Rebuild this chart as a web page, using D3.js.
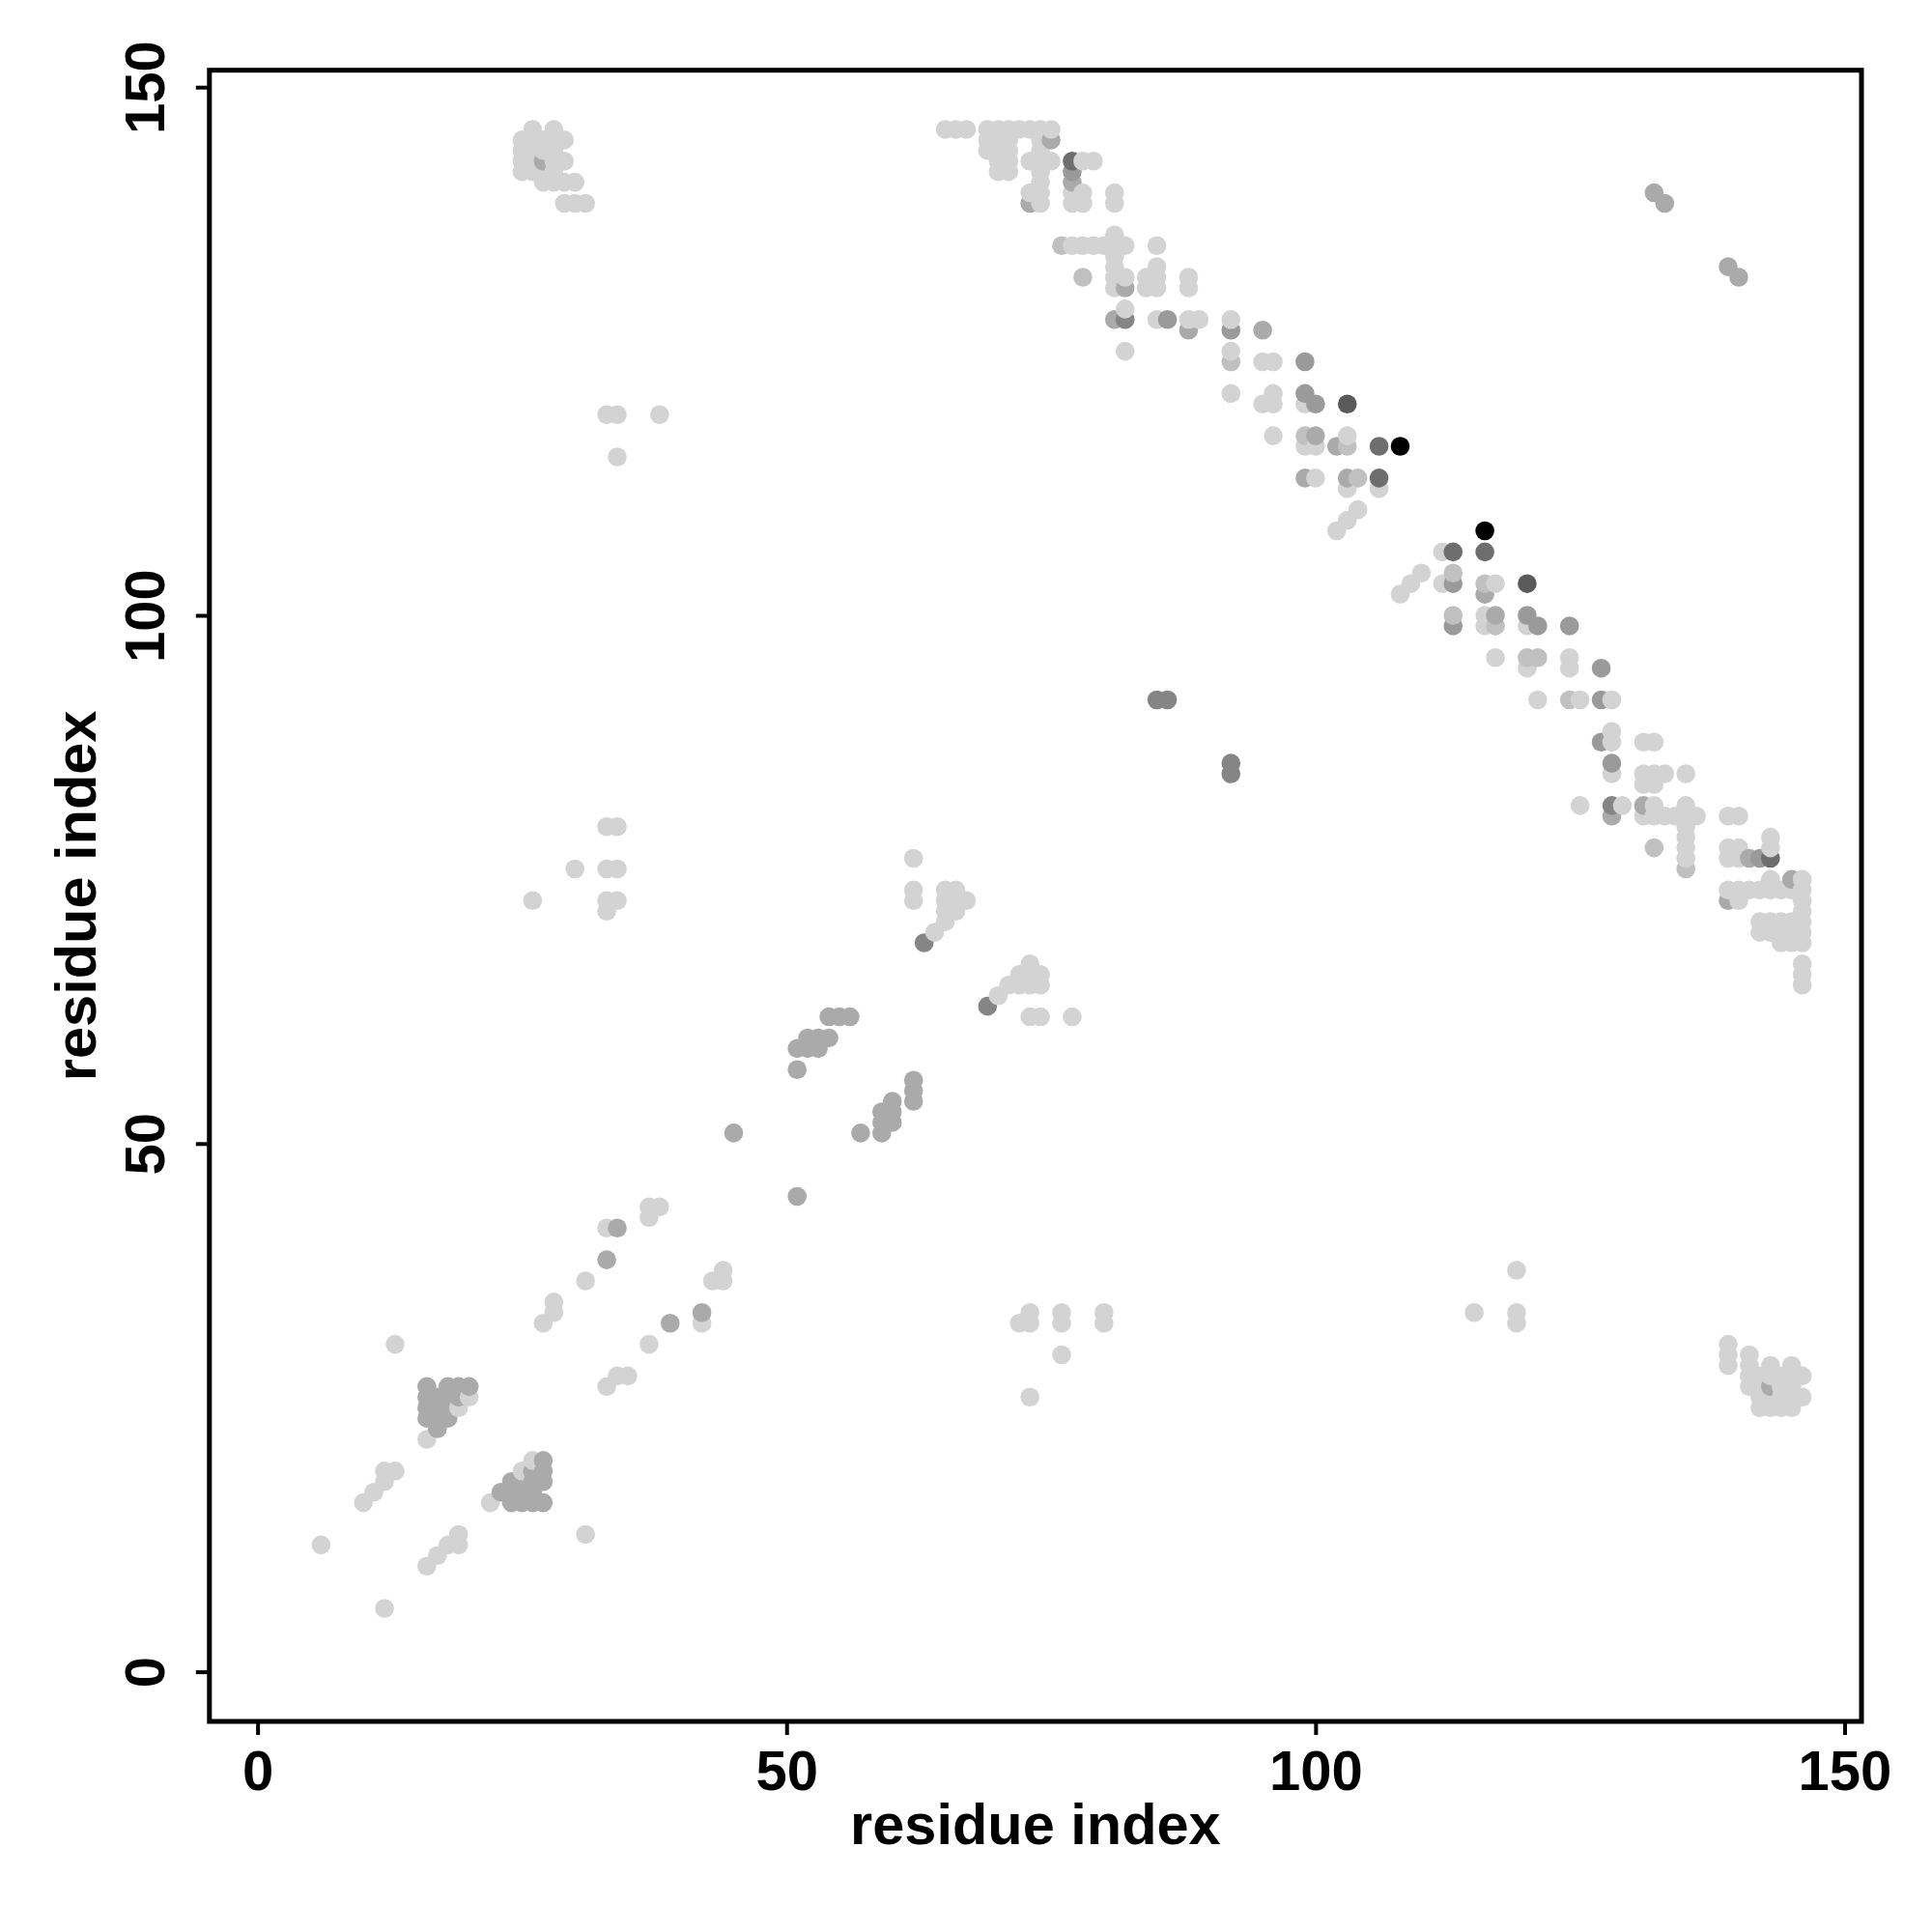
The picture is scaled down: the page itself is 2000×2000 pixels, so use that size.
<!DOCTYPE html>
<html><head><meta charset="utf-8">
<script src="https://cdn.jsdelivr.net/npm/d3@7"></script>
<style>body{margin:0;background:#fff}</style>
</head><body>
<svg id="c" width="2000" height="2000"></svg>
<script>
// ---- data: contact pairs [residue i, residue j], grouped by shade ----
const xTicks = [0, 50, 100, 150];
const yTicks = [0, 50, 100, 150];
const xLabel = "residue index";
const yLabel = "residue index";

const shadeLight = [
 [26,146],[28,146],[25,145],[26,145],[27,145],[28,145],[29,145],[25,144],[26,144],[27,144],[28,144],
 [25,143],[26,143],[28,143],[29,143],[25,142],[26,142],[27,142],[28,142],[27,141],[28,141],[29,141],[30,141],
 [29,139],[30,139],[31,139],
 [33,119],[34,119],[38,119],[34,115],[33,80],[34,80],[30,76],[33,76],[34,76],[26,73],[33,73],[34,73],[33,72],
 [65,146],[66,146],[67,146],[69,146],[70,146],[71,146],[72,146],[73,146],[74,146],[75,146],
 [69,145],[70,145],[71,145],[74,145],[69,144],[70,144],[71,144],[74,144],
 [70,143],[71,143],[73,143],[74,143],[75,143],[78,143],[79,143],[70,142],[71,142],[74,142],[74,141],
 [73,140],[74,140],[77,140],[78,140],[81,140],[74,139],[77,139],[78,139],[81,139],
 [81,136],[77,135],[78,135],[79,135],[80,135],[81,135],[82,135],[85,135],[81,134],[81,133],[85,133],
 [81,132],[82,132],[84,132],[85,132],[88,132],[81,131],[84,131],[85,131],[88,131],
 [82,129],[85,128],[88,128],[89,128],[92,128],[82,125],[92,125],[95,124],[96,124],
 [92,121],[96,121],[95,120],[96,120],[99,120],[96,117],[99,116],[100,116],[103,117],
 [100,113],[103,112],[106,112],[104,110],[103,109],[102,108],
 [112,106],[110,104],[109,103],[108,102],[112,103],[117,103],[116,100],[116,99],[120,99],
 [117,96],[120,95],[124,96],[124,95],[121,92],[125,92],[128,92],[128,89],[128,88],[131,88],[132,88],
 [128,85],[131,85],[132,85],[133,85],[135,85],[131,84],[132,84],[125,82],[129,82],[132,82],[135,82],
 [131,81],[132,81],[133,81],[134,81],[135,81],[136,81],[135,80],[135,79],[135,78],[135,77],
 [139,81],[140,81],[139,78],[140,78],[139,77],[140,77],[143,79],[143,78],[143,75],[146,75],
 [139,74],[140,74],[141,74],[142,74],[143,74],[144,74],[145,74],[146,74],[140,73],[146,73],[146,72],
 [142,71],[143,71],[144,71],[145,71],[146,71],[142,70],[143,70],[144,70],[145,70],[146,70],
 [144,69],[145,69],[146,69],[146,67],[146,66],[146,65],
 [13,31],[31,13],[6,12],[12,6],[10,16],[11,17],[12,18],[12,19],[13,19],[16,10],[17,11],[18,12],[19,12],[19,13],
 [22,16],[16,22],[20,26],[19,25],[25,19],[26,20],
 [27,33],[28,34],[28,35],[33,27],[34,28],[35,28],[31,37],[37,31],[33,42],[42,33],
 [37,44],[38,44],[37,43],[43,37],[44,37],[44,38],
 [62,77],[62,74],[62,73],[65,74],[66,74],[65,73],[66,73],[67,73],[65,72],[66,72],[65,71],[64,70],
 [77,62],[74,62],[73,62],[73,67],[72,66],[73,66],[74,66],[71,65],[72,65],[73,65],[74,65],[70,64],
 [73,34],[72,33],[73,33],[76,34],[76,33],[80,34],[80,33],[76,30],[73,26],
 [119,38],[115,34],[119,34],[119,33],
 [139,31],[139,30],[139,29],[141,30],[141,29],[141,28],[141,27],[143,29],[145,29],
 [142,28],[143,28],[144,28],[145,28],[146,28],[142,27],[144,27],[145,27],
 [142,26],[143,26],[144,26],[145,26],[146,26],[142,25],[143,25],[144,25],[145,25]
];
const shadeLightMid = [
 [76,135],[135,76],[78,132],[132,78],[92,124],[124,92],[99,117],[117,99],[103,116],[116,103],
 [104,113],[113,104],[113,100],[120,96],[121,96]
];
const shadeGray = [
 [16,27],[18,27],[19,27],[20,27],[16,26],[17,26],[18,26],[19,26],[16,25],[17,25],[18,25],
 [16,24],[17,24],[18,24],[17,23],
 [27,20],[26,19],[27,19],[24,18],[25,18],[26,18],[27,18],[23,17],[24,17],[25,17],[26,17],
 [24,16],[25,16],[26,16],[27,16],
 [33,39],[39,33],[34,42],[42,34],[45,51],[51,45],[57,51],[51,57],
 [54,62],[55,62],[56,62],[52,60],[53,60],[54,60],[51,59],[52,59],[53,59],
 [62,56],[62,55],[62,54],[60,54],[59,53],[60,53],[59,52],[60,52],[59,51],
 [75,145],[145,75],[73,139],[139,73],[77,141],[141,77],[81,128],[128,81],[82,131],[131,82],
 [88,127],[95,127],[100,117],[117,100],[102,116],[116,102],[99,113],[103,113],
 [132,140],[133,139],[139,133],[140,132],[27,143],[143,27]
];
const shadeGray2 = [
 [77,142],[142,77],[86,128],[128,86],[92,127],[127,92],[127,88],[99,124],[124,99],
 [99,121],[121,99],[100,120],[120,100],[113,103],[113,99],[127,95]
];
const shadeDarkGray = [[85,92],[86,92],[92,86],[92,85],[63,69],[69,63],[128,82],[82,128]];
const shadeDark = [[77,143],[143,77],[106,116],[116,106],[106,113],[113,106]];
const shadeVeryDark = [[103,120],[120,103]];
const shadeBlack = [[108,116],[116,108]];

const shadeGroups = [
  {fill:"#d3d3d3", pts:shadeLight},
  {fill:"#c0c0c0", pts:shadeLightMid},
  {fill:"#aaaaaa", pts:shadeGray},
  {fill:"#9a9a9a", pts:shadeGray2},
  {fill:"#858585", pts:shadeDarkGray},
  {fill:"#6e6e6e", pts:shadeDark},
  {fill:"#5a5a5a", pts:shadeVeryDark},
  {fill:"#000000", pts:shadeBlack}
];

// ---- build drawing list (drawn in order of i, then j) ----
const seen = new Map();
shadeGroups.forEach(g => g.pts.forEach(p => { seen.set(p[0]+","+p[1], {i:p[0], j:p[1], fill:g.fill}); }));
const points = Array.from(seen.values()).sort((a,b) => a.i - b.i || a.j - b.j);

const svg = d3.select("#c");
const L = 216.8, R = 1927, T = 72.7, B = 1782;
const x = d3.scaleLinear().domain([-4.55, 151.6]).range([L, R]);
const y = d3.scaleLinear().domain([-4.70, 151.6]).range([B, T]);

svg.append("g").selectAll("circle").data(points).join("circle")
  .attr("cx", d => x(d.i)).attr("cy", d => y(d.j)).attr("r", 9.8)
  .attr("fill", d => d.fill);

svg.append("rect").attr("x", L).attr("y", T).attr("width", R-L).attr("height", B-T)
  .attr("fill", "none").attr("stroke", "#000").attr("stroke-width", 5);

const font = "'Liberation Sans', Arial, Helvetica, sans-serif";
const xa = svg.append("g").attr("transform", `translate(0,${B})`)
  .call(d3.axisBottom(x).tickValues(xTicks).tickSize(14).tickPadding(16).tickFormat(d3.format("d")));
xa.select(".domain").attr("d", `M${x(xTicks[0])},0H${x(xTicks[xTicks.length-1])}`).attr("stroke-width", 4);
xa.selectAll(".tick line").attr("stroke-width", 4);
xa.selectAll(".tick text").attr("font-family", font).attr("font-size", 58).attr("font-weight", "bold").attr("fill", "#000");

const ya = svg.append("g").attr("transform", `translate(${L},0)`)
  .call(d3.axisLeft(y).tickValues(yTicks).tickSize(14).tickFormat(d3.format("d")));
ya.select(".domain").attr("d", `M0,${y(yTicks[0])}V${y(yTicks[yTicks.length-1])}`).attr("stroke-width", 4);
ya.selectAll(".tick line").attr("stroke-width", 4);
ya.selectAll(".tick text")
  .attr("font-family", font).attr("font-size", 58).attr("font-weight", "bold").attr("fill", "#000")
  .attr("text-anchor", "middle").attr("x", null).attr("dy", null)
  .attr("transform", "translate(-47,0) rotate(-90)");

svg.append("text").attr("x", (L+R)/2).attr("y", 1909).attr("text-anchor", "middle")
  .attr("font-family", font).attr("font-size", 59.5).attr("font-weight", "bold").text(xLabel);
svg.append("text").attr("transform", `translate(99,${(T+B)/2}) rotate(-90)`).attr("text-anchor", "middle")
  .attr("font-family", font).attr("font-size", 59.5).attr("font-weight", "bold").text(yLabel);
</script>
</body></html>
